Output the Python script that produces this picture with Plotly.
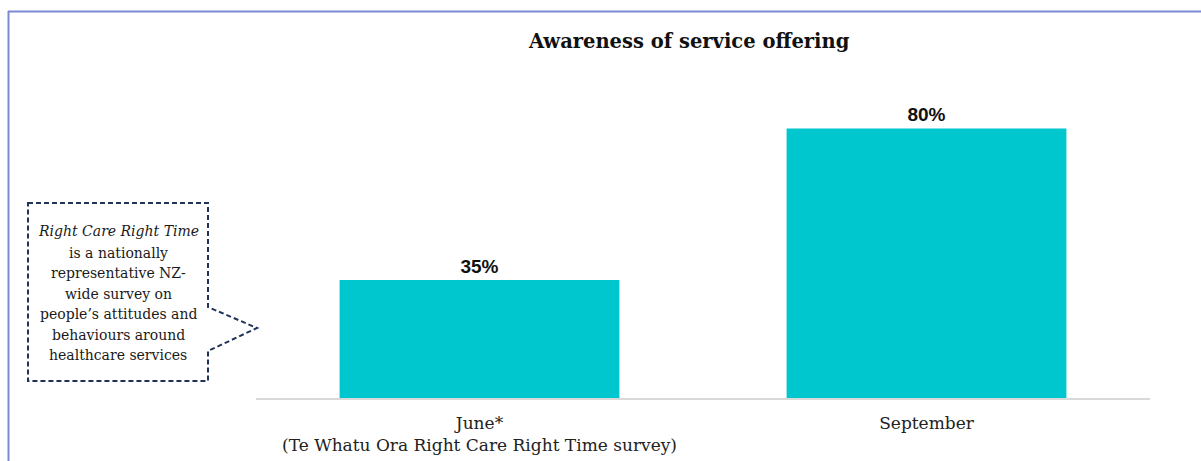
import plotly.graph_objects as go

# Survey results
periods = ["June*<br>(Te Whatu Ora Right Care Right Time survey)", "September"]
awareness = [35, 80]
value_labels = [f"{v}%" for v in awareness]

title_text = "Awareness of service offering"
callout_lines = [
    "<i>Right Care Right Time</i>",
    "is a nationally",
    "representative NZ-",
    "wide survey on",
    "people\u2019s attitudes and",
    "behaviours around",
    "healthcare services",
]

W, H = 1201, 461
L, R, T, B = 256, 51, 61, 63
PW, PH = W - L - R, H - T - B


def px(x):
    return (x - L) / PW


def py(y):
    return (H - B - y) / PH


fig = go.Figure(
    go.Bar(
        x=periods,
        y=awareness,
        text=value_labels,
        textposition="outside",
        textfont=dict(family="Liberation Sans", size=19, color="#111111", weight="bold"),
        marker=dict(color="#00C6CE", line=dict(width=0)),
        cliponaxis=False,
        width=0.626,
    )
)

shapes = [
    # outer frame (top and left edges)
    dict(type="line", xref="paper", yref="paper", x0=px(8), x1=px(1201), y0=py(11.5), y1=py(11.5),
         line=dict(color="#7B89D6", width=2)),
    dict(type="line", xref="paper", yref="paper", x0=px(8.5), x1=px(8.5), y0=py(11), y1=py(461),
         line=dict(color="#7B89D6", width=2)),
    # dashed callout box with pointer
    dict(
        type="path", xref="paper", yref="paper",
        path=(
            f"M {px(28)},{py(203)} L {px(208)},{py(203)} L {px(208)},{py(307)} "
            f"L {px(257)},{py(328)} L {px(208)},{py(351)} L {px(208)},{py(381)} "
            f"L {px(28)},{py(381)} Z"
        ),
        line=dict(color="#1F3458", width=2, dash="5px,3px"),
        fillcolor="rgba(255,255,255,0)",
    ),
]

annotations = [
    dict(text=f"<b>{title_text}</b>", xref="paper", yref="paper", x=px(689), y=py(42),
         showarrow=False, xanchor="center", yanchor="middle",
         font=dict(family="DejaVu Serif", size=19.5, color="#111111")),
]
line_y = [231, 252.5, 273, 293.5, 314, 334.5, 355]
for txt, yy in zip(callout_lines, line_y):
    annotations.append(
        dict(text=txt, xref="paper", yref="paper", x=px(118), y=py(yy), showarrow=False,
             xanchor="center", yanchor="middle",
             font=dict(family="DejaVu Serif", size=14, color="#1a1a1a"))
    )

fig.update_layout(
    width=W, height=H,
    margin=dict(l=L, r=R, t=T, b=B, pad=0, autoexpand=False),
    paper_bgcolor="white", plot_bgcolor="white",
    showlegend=False,
    shapes=shapes,
    annotations=annotations,
    bargap=0.374,
    xaxis=dict(showline=True, linecolor="#D9D9D9", linewidth=1.5, ticks="", showgrid=False,
               automargin=False, ticklabelstandoff=9,
               tickfont=dict(family="DejaVu Serif", size=17, color="#222222")),
    yaxis=dict(range=[0, 100], visible=False, showgrid=False, zeroline=False, automargin=False),
)

fig.write_html("out.html")
